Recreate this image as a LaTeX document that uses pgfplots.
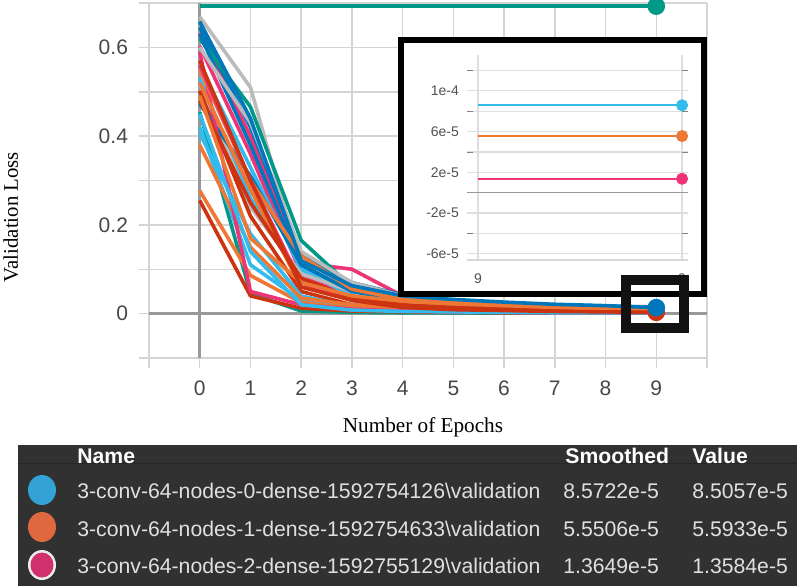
\documentclass[border=0pt]{standalone}
\usepackage{fontspec}
\setmainfont{Liberation Serif}
\newfontfamily\tb{Liberation Sans}
\usepackage{pgfplots}
\pgfplotsset{compat=1.18}

\definecolor{lb}{HTML}{33BBEE}
\definecolor{orn}{HTML}{EE7733}
\definecolor{pnk}{HTML}{EE3377}
\definecolor{tel}{HTML}{009988}
\definecolor{dbl}{HTML}{0077BB}
\definecolor{rdd}{HTML}{CC3311}
\definecolor{gry}{HTML}{BBBBBB}
\definecolor{panel}{HTML}{313131}
\definecolor{dotb}{HTML}{33A3D5}
\definecolor{doto}{HTML}{E0683E}
\definecolor{dotp}{HTML}{D0306C}

\begin{document}
\begin{tikzpicture}
\useasboundingbox (0,0) rectangle (400pt,-293pt);

% main plot: 1 px = 0.5pt
\begin{axis}[at={(74.5pt,-179pt)}, anchor=south west, scale only axis,
  width=279pt, height=177.5pt, xmin=-1, xmax=10, ymin=-0.1, ymax=0.7,
  xtick={-1,0,...,10}, xticklabels={,0,1,2,3,4,5,6,7,8,9,},
  ytick={-0.1,0,0.1,0.2,0.3,0.4,0.5,0.6,0.7},
  yticklabels={,0,,0.2,,0.4,,0.6,},
  grid=major, major grid style={line width=0.75pt, black!17},
  axis line style={draw=none}, tick align=outside, tick pos=left,
  major tick length=5pt, tick style={line width=0.75pt, black!17},
  tick label style={font=\tb\fontsize{10.5}{12}\selectfont, text=black!72},
  xticklabel style={yshift=-3pt}, yticklabel style={xshift=-2pt},
  every axis plot/.append style={line width=1.8pt, line join=round},
  mark size=3.5pt]
\draw[black!40, line width=1.25pt] ([xshift=-5pt]axis cs:-1,0) -- (axis cs:10,0);
\draw[black!40, line width=1.25pt] (axis cs:0,-0.1) -- (axis cs:0,0.7);
\addplot[gry] coordinates {(0,.669) (1,.51) (2,.105) (3,.06) (4,.035) (5,.025) (6,.02) (7,.016) (8,.013) (9,.011)};
\addplot[pnk] coordinates {(0,.632) (1,.40) (2,.115) (3,.10) (4,.04) (5,.025) (6,.016) (7,.012) (8,.009) (9,.007)};
\addplot[dbl] coordinates {(0,.645) (1,.42) (2,.13) (3,.07) (4,.042) (5,.03) (6,.024) (7,.02) (8,.017) (9,.015)};
\addplot[pnk] coordinates {(0,.603) (1,.36) (2,.09) (3,.035) (4,.015) (5,.01) (6,.008) (7,.006) (8,.005) (9,.004)};
\addplot[tel] coordinates {(0,.62) (1,.466) (2,.165) (3,.06) (4,.02) (5,.01) (6,.007) (7,.005) (8,.004) (9,.003)};
\addplot[lb] coordinates {(0,.559) (1,.33) (2,.10) (3,.04) (4,.02) (5,.012) (6,.009) (7,.007) (8,.006) (9,.005)};
\addplot[dbl] coordinates {(0,.63) (1,.38) (2,.11) (3,.05) (4,.03) (5,.022) (6,.018) (7,.015) (8,.013) (9,.012)};
\addplot[lb] coordinates {(0,.53) (1,.26) (2,.075) (3,.03) (4,.015) (5,.01) (6,.008) (7,.006) (8,.005) (9,.004)};
\addplot[gry] coordinates {(0,.518) (1,.24) (2,.09) (3,.05) (4,.03) (5,.02) (6,.015) (7,.012) (8,.01) (9,.009)};
\addplot[rdd] coordinates {(0,.502) (1,.22) (2,.05) (3,.02) (4,.01) (5,.007) (6,.005) (7,.004) (8,.003) (9,.003)};
\addplot[dbl] coordinates {(0,.473) (1,.31) (2,.11) (3,.05) (4,.03) (5,.02) (6,.016) (7,.013) (8,.011) (9,.01)};
\addplot[tel] coordinates {(0,.454) (1,.045) (2,.006) (3,.003) (4,.002) (5,.002) (6,.001) (7,.001) (8,.001) (9,.001)};
\addplot[lb] coordinates {(0,.42) (1,.11) (2,.03) (3,.01) (4,.006) (5,.004) (6,.003) (7,.003) (8,.002) (9,.002)};
\addplot[lb] coordinates {(0,.406) (1,.18) (2,.04) (3,.015) (4,.008) (5,.005) (6,.004) (7,.003) (8,.003) (9,.002)};
\addplot[orn] coordinates {(0,.38) (1,.15) (2,.035) (3,.02) (4,.012) (5,.008) (6,.006) (7,.005) (8,.004) (9,.003)};
\addplot[orn] coordinates {(0,.277) (1,.086) (2,.025) (3,.012) (4,.007) (5,.005) (6,.004) (7,.003) (8,.003) (9,.002)};
\addplot[rdd] coordinates {(0,.255) (1,.04) (2,.012) (3,.006) (4,.004) (5,.003) (6,.002) (7,.002) (8,.002) (9,.001)};
\addplot[pnk] coordinates {(0,.59) (1,.05) (2,.02) (3,.01) (4,.006) (5,.004) (6,.003) (7,.002) (8,.002) (9,.002)};
\addplot[gry] coordinates {(0,.60) (1,.43) (2,.14) (3,.07) (4,.04) (5,.028) (6,.022) (7,.018) (8,.015) (9,.013)};
\addplot[orn] coordinates {(0,.55) (1,.30) (2,.13) (3,.055) (4,.032) (5,.025) (6,.02) (7,.016) (8,.013) (9,.011)};
\addplot[orn] coordinates {(0,.52) (1,.28) (2,.06) (3,.035) (4,.02) (5,.014) (6,.01) (7,.008) (8,.007) (9,.006)};
\addplot[lb] coordinates {(0,.45) (1,.14) (2,.02) (3,.008) (4,.005) (5,.004) (6,.003) (7,.002) (8,.002) (9,.002)};
\addplot[pnk] coordinates {(0,.56) (1,.30) (2,.07) (3,.03) (4,.015) (5,.01) (6,.008) (7,.006) (8,.005) (9,.004)};
\addplot[rdd] coordinates {(0,.48) (1,.25) (2,.08) (3,.035) (4,.02) (5,.014) (6,.01) (7,.008) (8,.007) (9,.006)};
\addplot[orn] coordinates {(0,.491) (1,.17) (2,.07) (3,.04) (4,.028) (5,.022) (6,.018) (7,.014) (8,.011) (9,.009)};
\addplot[tel, mark=*, mark indices={10}] coordinates {(0,.693) (1,.693) (2,.693) (3,.693) (4,.693) (5,.693) (6,.693) (7,.693) (8,.693) (9,.693)};
\addplot[rdd, mark=*, mark indices={10}] coordinates {(0,.57) (1,.30) (2,.06) (3,.03) (4,.014) (5,.009) (6,.007) (7,.005) (8,.004) (9,.003)};
\addplot[dbl, mark=*, mark indices={10}] coordinates {(0,.658) (1,.44) (2,.119) (3,.063) (4,.04) (5,.032) (6,.026) (7,.021) (8,.018) (9,.0135)};
\end{axis}

% inset frame
\fill[white] (201pt,-20pt) rectangle (352pt,-147pt);
\draw[black, line width=3pt] (200.5pt,-20pt) rectangle (352pt,-147pt);

\begin{axis}[at={(233.5pt,-130pt)}, anchor=south west, scale only axis,
  width=110.5pt, height=102.5pt, xmin=8.98946, xmax=9.00029,
  ymin=-6.6e-5, ymax=1.35e-4, scaled x ticks=false, scaled y ticks=false,
  xtick={8.99,9}, xticklabels={9,9},
  ytick={-6e-5,-2e-5,2e-5,6e-5,1e-4},
  yticklabels={-6e-5,-2e-5,2e-5,6e-5,1e-4},
  minor ytick={-4e-5,0,4e-5,8e-5,1.2e-4},
  grid=both, grid style={line width=0.6pt, black!13},
  axis line style={draw=none}, major tick length=0pt,
  tick label style={font=\tb\fontsize{7}{8}\selectfont, text=black!68},
  xticklabel style={yshift=-3.5pt}, yticklabel style={xshift=-0.5pt},
  mark size=2.5pt]
\draw[black!15, line width=0.6pt] (rel axis cs:0,0) -- (rel axis cs:1,0);
\draw[black!40, line width=0.8pt] (rel axis cs:0,0.3284) -- (rel axis cs:1,0.3284);
\addplot[lb, line width=1pt, mark=*, mark indices={2}] coordinates {(8.99,8.5722e-5) (9,8.5722e-5)};
\addplot[orn, line width=1pt, mark=*, mark indices={2}] coordinates {(8.99,5.5506e-5) (9,5.5506e-5)};
\addplot[pnk, line width=1pt, mark=*, mark indices={2}] coordinates {(8.99,1.3649e-5) (9,1.3649e-5)};
\end{axis}

% zoom box around epoch 9
\draw[black!93, line width=5pt] (313pt,-140pt) rectangle (342pt,-164pt);

% axis titles
\begin{scope}[x=0.5pt, y=-0.5pt]
\node[rotate=90, anchor=base, inner sep=0, font=\fontsize{10.4}{12}\selectfont] at (18,217) {Validation Loss};
\node[anchor=base, inner sep=0, font=\fontsize{10.6}{12}\selectfont] at (423,432) {Number of Epochs};

% legend table
\fill[panel] (18,445) rectangle (797,586);
\draw[black!85, line width=0.5pt] (18,463) -- (797,463);
\begin{scope}[every node/.style={anchor=base west, inner sep=0}]
\node[font=\tb\bfseries\fontsize{10.6}{12}\selectfont, text=white] at (77,463) {Name};
\node[font=\tb\bfseries\fontsize{10.6}{12}\selectfont, text=white] at (565,463) {Smoothed};
\node[font=\tb\bfseries\fontsize{10.6}{12}\selectfont, text=white] at (692,463) {Value};
\fill[dotb] (42,490) ellipse (14 and 15);
\fill[doto] (42,527) ellipse (14 and 15);
\fill[black!8] (42,565) ellipse (14 and 15);
\fill[dotp] (42,565) ellipse (11.5 and 12.5);
\begin{scope}[every node/.append style={font=\tb\fontsize{10.6}{12}\selectfont, text=black!12}]
\node at (77,498) {3-conv-64-nodes-0-dense-1592754126\textbackslash validation};
\node at (77,536) {3-conv-64-nodes-1-dense-1592754633\textbackslash validation};
\node at (77,573) {3-conv-64-nodes-2-dense-1592755129\textbackslash validation};
\node at (563,498) {8.5722e-5};
\node at (563,536) {5.5506e-5};
\node at (563,573) {1.3649e-5};
\node at (692,498) {8.5057e-5};
\node at (692,536) {5.5933e-5};
\node at (692,573) {1.3584e-5};
\end{scope}
\end{scope}
\end{scope}
\end{tikzpicture}
\end{document}
